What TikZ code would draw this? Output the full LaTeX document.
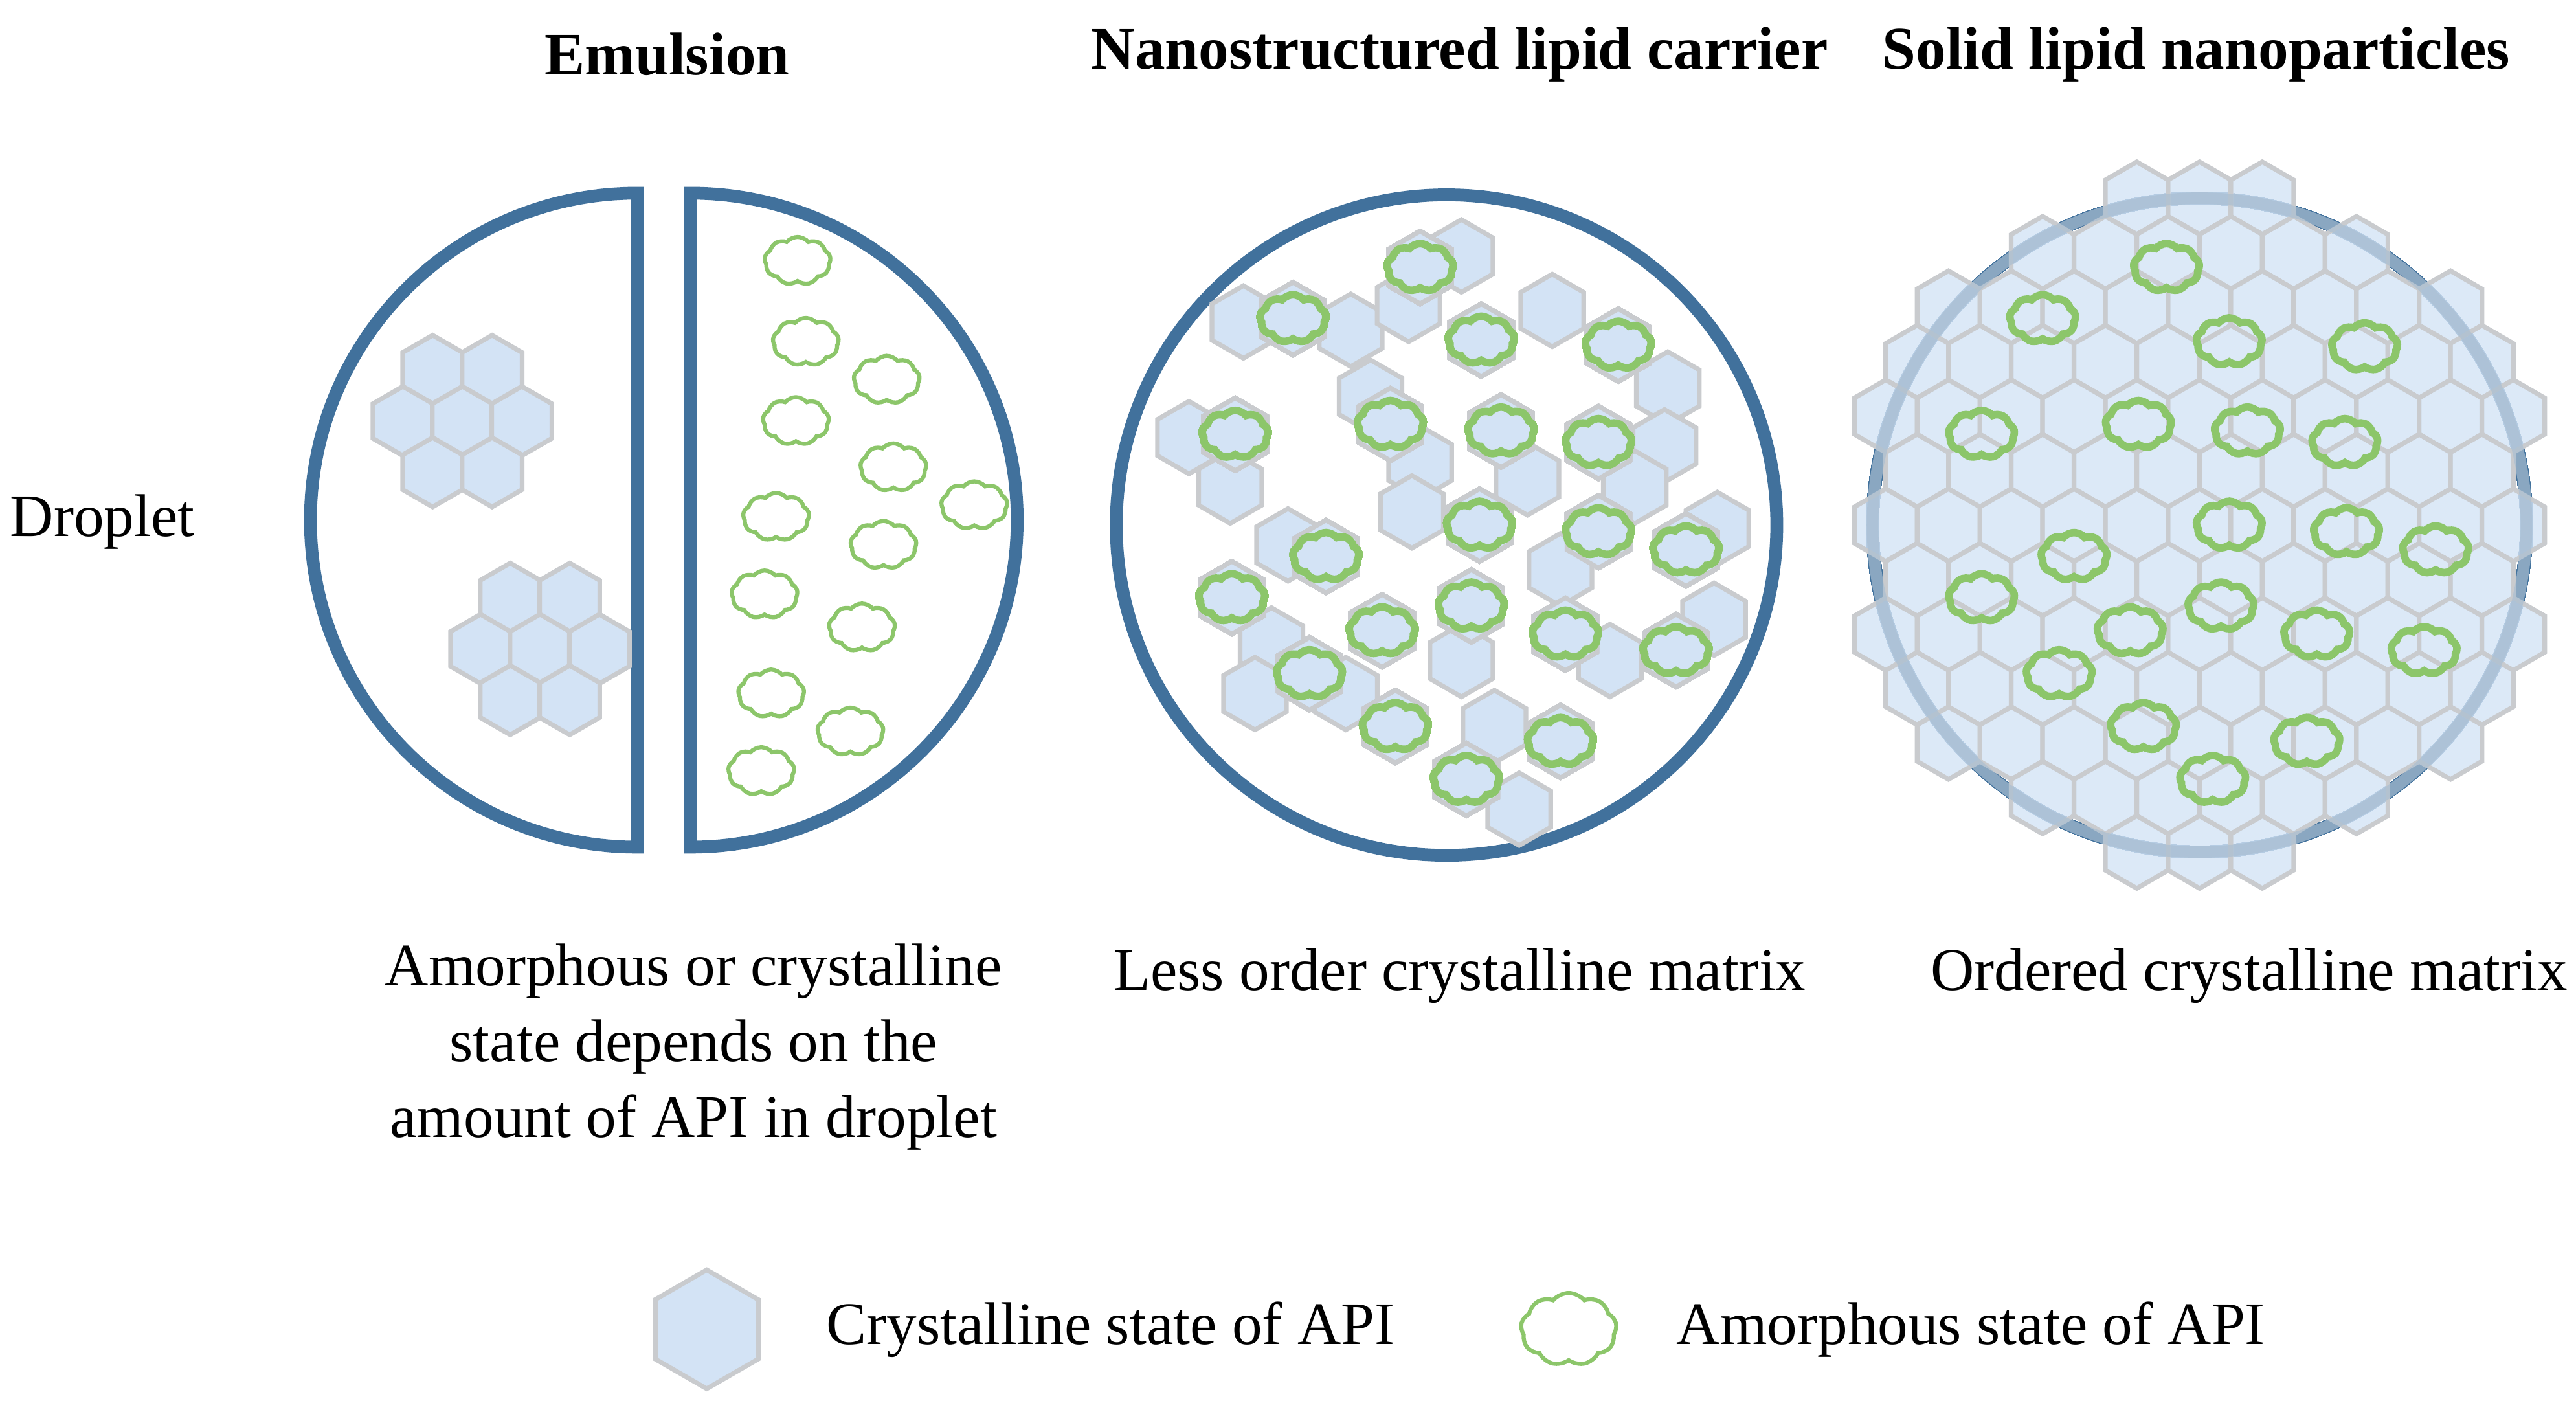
\documentclass[tikz,border=0pt]{standalone}
\usepackage{fontspec}
\setmainfont{Liberation Serif}
\usetikzlibrary{shapes.symbols}
\definecolor{dropc}{HTML}{41719C}
\definecolor{hexf}{HTML}{D3E3F5}
\definecolor{hexd}{HTML}{C9CBCE}
\definecolor{gr}{HTML}{8CC66A}
\tikzset{
 drop/.style={draw=dropc,line width=2.2pt},
 hex/.style={fill=hexf,draw=hexd,line width=0.8pt},
 cl/.style={cloud,cloud puffs=9,cloud puff arc=100,aspect=1.5,draw=gr,line width=0.7pt,minimum width=4mm,minimum height=2.9mm,inner sep=0pt},
 clt/.style={cl,line width=1.3pt},
 ttl/.style={font=\fontsize{10.4}{12.5}\selectfont\bfseries},
 txt/.style={font=\fontsize{10.4}{13}\selectfont,align=center}
}
\newcommand\hexa[3]{\path[hex] (#1,#2)+(90:#3)--+(150:#3)--+(210:#3)--+(270:#3)--+(330:#3)--+(30:#3)--cycle;}
\begin{document}
\begin{tikzpicture}[x=0.1mm,y=-0.1mm]
\useasboundingbox (0,0) rectangle (1560,848.4);
% titles
\node[ttl] (t1) at (404,33) {Emulsion};
\node[ttl] (t2) at (884,33) {Nanostructured lipid carrier};
\node[ttl] (t3) at (1330,33) {Solid lipid nanoparticles};
\node[txt] (dl) at (62,316) {Droplet};
% emulsion
\draw[drop] (386,117) arc[start angle=-90,end angle=-270,radius=198] -- cycle;
\draw[drop] (418,117) arc[start angle=-90,end angle=90,radius=198] -- cycle;
\foreach \cx/\cy in {280/255,327/393}{
 \foreach \dx/\dy in {-18/-31,18/-31,-36/0,0/0,36/0,-18/31,18/31}{
  \hexa{\cx+\dx}{\cy+\dy}{21}}}
\foreach \p/\q in {483/158,488/207,537/230,482/255,541/283,590/306,470/313,535/330,463/360,522/380,467/420,515/443,461/467}
 \node[cl] at (\p,\q) {};
% NLC
\draw[drop] (876,318) circle[radius=200];
\foreach \p/\q in {753/195,818/200,853/185,885/155,940/188,1010/235,1008/270,720/265,745/295,780/330,770/390,860/280,855/310,925/290,990/295,1040/320,1038/375,975/400,905/440,920/490,815/420,885/400,830/240,760/420,945/345}
 \hexa{\p}{\q}{22}
\foreach \p/\q in {860/162,783/193,897/206,980/209,748/263,842/257,909/261,968/268,896/318,968/322,1021/333,803/337,746/362,891/367,837/382,948/384,1015/394,793/408,845/440,945/449,888/472}{
 \hexa{\p}{\q}{22}
 \node[clt] at (\p,\q) {};}
% SLN
\draw[drop] (1332,318) circle[radius=198];
\foreach \j in {-7,...,7}{
 \foreach \i in {-7,...,7}{
  \pgfmathsetmacro\ddx{(\i+0.5*mod(abs(\j),2))*0.38}
  \pgfmathsetmacro\ddy{\j*0.33}
  \pgfmathsetmacro\hx{1332+\ddx*100}
  \pgfmathsetmacro\hy{318+\ddy*100}
  \pgfmathparse{(\ddx*\ddx+\ddy*\ddy)<4.3?1:0}
  \ifnum\pgfmathresult=1
   \path[hex,fill opacity=0.8] (\hx,\hy)+(90:22)--+(150:22)--+(210:22)--+(270:22)--+(330:22)--+(30:22)--cycle;
  \fi}}
\draw[dropc!45,line width=2pt,opacity=0.7] (1332,318) circle[radius=198];
\foreach \p/\q in {1312/162,1237/193,1350/207,1432/210,1200/263,1295/257,1361/261,1420/268,1350/318,1421/322,1475/333,1256/337,1200/362,1345/367,1290/382,1403/384,1468/394,1247/408,1298/440,1397/449,1340/472}
 \node[clt] at (\p,\q) {};
% captions
\node[txt] (c1) at (420,634) {Amorphous or crystalline\\state depends on the\\amount of API in droplet};
\node[txt] (c2) at (884,591) {Less order crystalline matrix};
\node[txt] (c3) at (1362,591) {Ordered crystalline matrix};
% legend
\hexa{428}{805}{36}
\node[txt,anchor=west] (l1) at (488,805) {Crystalline state of API};
\node[cl,minimum width=5.8mm,minimum height=4.4mm] (lc) at (950,805) {};
\node[txt,anchor=west] (l2) at (1003,805) {Amorphous state of API};
\end{tikzpicture}
\end{document}
